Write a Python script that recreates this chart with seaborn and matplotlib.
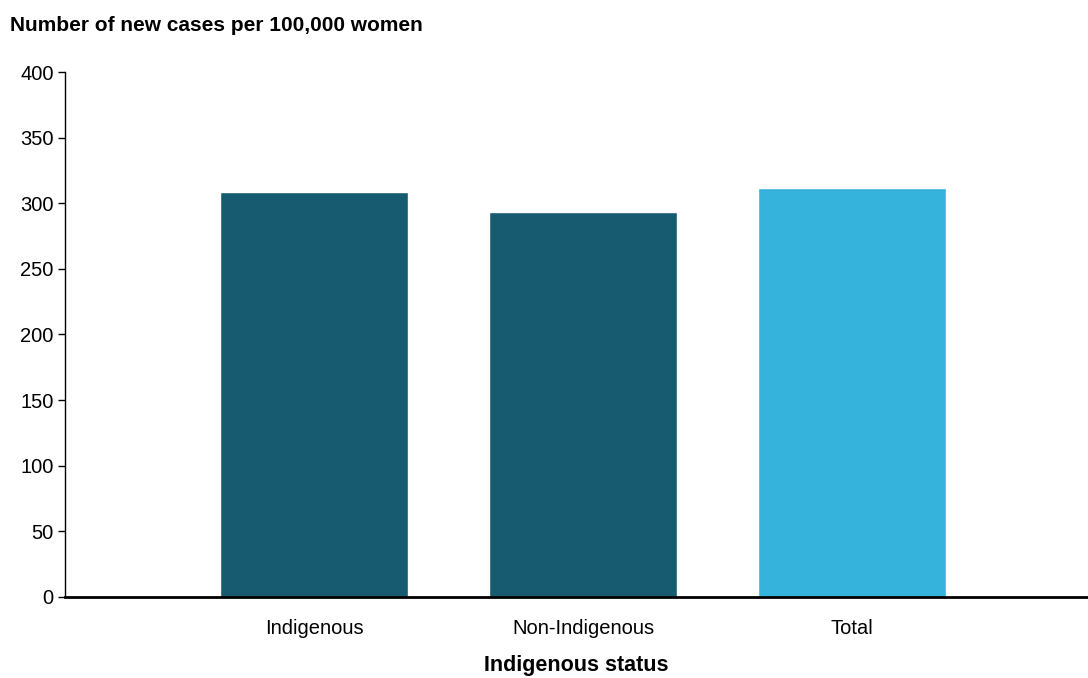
import matplotlib
matplotlib.use("Agg")
import matplotlib.pyplot as plt
import seaborn as sns
import pandas as pd

categories = ["Indigenous", "Non-Indigenous", "Total"]
values = [308.4, 293.1, 311.4]
bar_colors = ["#175b70", "#175b70", "#35b3dc"]
yticks = [0, 50, 100, 150, 200, 250, 300, 350, 400]

sns.set_theme(style="white")
plt.rcParams["font.family"] = ["Liberation Sans", "DejaVu Sans"]
plt.rcParams["text.color"] = "black"
plt.rcParams["axes.labelcolor"] = "black"

df = pd.DataFrame({"status": categories, "rate": values})

fig = plt.figure(figsize=(10.88, 6.78), dpi=100)
ax = fig.add_axes([0.0597, 0.1195, 0.9403, 0.7743])

sns.barplot(data=df, x="status", y="rate", hue="status", palette=bar_colors,
            legend=False, width=0.7, ax=ax, saturation=1,
            edgecolor="white", linewidth=1)

ax.set_xlim(-0.926, 2.877)
ax.set_ylim(0, 400)
ax.set_yticks(yticks)
ax.set_yticklabels([str(v) for v in yticks], fontsize=14.5)
ax.tick_params(axis="y", direction="out", length=5, width=1, colors="black", pad=3, left=True)
ax.tick_params(axis="x", length=0, labelsize=14.5, pad=16, colors="black")
for s in ["top", "right"]:
    ax.spines[s].set_visible(False)
ax.spines["left"].set_color("black")
ax.spines["left"].set_linewidth(1)
ax.spines["bottom"].set_color("black")
ax.spines["bottom"].set_linewidth(2)
ax.set_ylabel("")
ax.set_xlabel("Indigenous status", fontsize=15.5, fontweight="bold", labelpad=12,
              color="black")

fig.text(0.009, 0.963, "Number of new cases per 100,000 women", fontsize=15,
         fontweight="bold", ha="left", va="center", color="black")

fig.savefig("out.png", dpi=100)
